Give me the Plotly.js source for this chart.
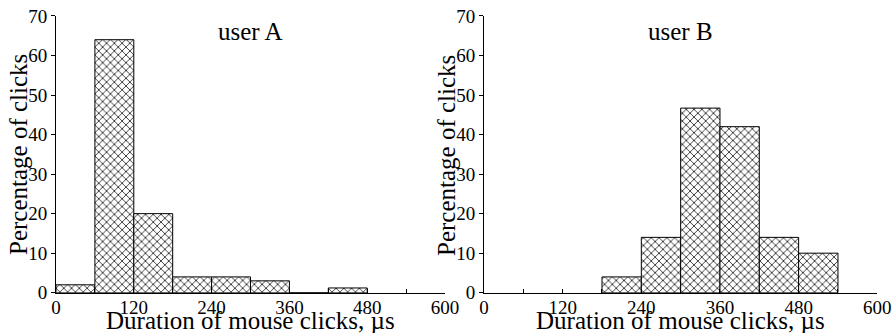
<!DOCTYPE html>
<html><head><meta charset="utf-8">
<script src="https://cdn.plot.ly/plotly-3.0.1.min.js"></script>
<style>html,body{margin:0;padding:0;background:#fff}#chart{width:896px;height:333px}</style>
</head><body><div id="chart"></div>
<script>
const binCentersA = [30, 90, 150, 210, 270, 330, 390, 450];
const valuesA = [2, 64, 20, 4, 4, 3, 0, 1.2];
const binCentersB = [210, 270, 330, 390, 450, 510];
const valuesB = [4, 14, 46.7, 42, 14, 10];
const binWidth = 60;
const xTickVals = [0, 60, 120, 180, 240, 300, 360, 420, 480, 540, 600];
const xTickText = ['0', '', '120', '', '240', '', '360', '', '480', '', '600'];
const yTickVals = [0, 10, 20, 30, 40, 50, 60, 70];
const titles = ['user A', 'user B'];
const xTitle = 'Duration of mouse clicks, µs';
const yTitle = 'Percentage of clicks';

const FONT = "Liberation Serif";
function barTrace(x, y, xa, ya) {
  return {
    type: 'bar', x: x, y: y, width: binWidth, xaxis: xa, yaxis: ya,
    marker: {color: 'white', line: {color: 'black', width: 1},
      pattern: {shape: 'x', size: 5.5, solidity: 0.25, fgcolor: 'black', bgcolor: 'white'}},
    showlegend: false, hoverinfo: 'x+y'
  };
}
const data = [barTrace(binCentersA, valuesA, 'x', 'y'), barTrace(binCentersB, valuesB, 'x2', 'y2')];
function xax(dom, anchor) {
  return {domain: dom, anchor: anchor, range: [0, 600], showgrid: false, zeroline: false,
    showline: true, linecolor: 'black', linewidth: 1, ticks: 'inside', ticklen: 4, tickcolor: 'black',
    tickmode: 'array', tickvals: xTickVals, ticktext: xTickText, ticklabelstandoff: -3,
    tickfont: {family: FONT, size: 19, color: 'black'}, fixedrange: true};
}
function yax(anchor) {
  return {domain: [0.121, 0.952], anchor: anchor, range: [0, 70], showgrid: false, zeroline: false,
    showline: true, linecolor: 'black', linewidth: 1, ticks: 'outside', ticklen: 4, tickcolor: 'black',
    tickmode: 'array', tickvals: yTickVals,
    tickfont: {family: FONT, size: 19, color: 'black'}, fixedrange: true};
}
const dA = [56/896, 445/896], dB = [484/896, 877.3/896];
const ann = [];
[[dA, 'x', 'y'], [dB, 'x2', 'y2']].forEach((d, i) => {
  const cx = (d[0][0] + d[0][1]) / 2;
  ann.push({text: titles[i], xref: 'paper', yref: 'paper', x: cx, y: 1 - 31/333, yanchor: 'middle', xanchor: 'center',
    showarrow: false, font: {family: FONT, size: 25, color: 'black'}});
  ann.push({text: xTitle, xref: 'paper', yref: 'paper', x: cx, y: 1 - 320/333, yanchor: 'middle', xanchor: 'center',
    showarrow: false, font: {family: FONT, size: 25, color: 'black'}});
  ann.push({text: yTitle, xref: 'paper', yref: 'paper', x: d[0][0] - 38/896, y: 1 - 155/333, yanchor: 'middle', xanchor: 'center',
    textangle: -90, showarrow: false, font: {family: FONT, size: 25, color: 'black'}});
});
const layout = {
  width: 896, height: 333, margin: {l: 0, r: 0, t: 0, b: 0},
  paper_bgcolor: 'white', plot_bgcolor: 'white', bargap: 0,
  xaxis: xax(dA, 'y'), yaxis: yax('x'), xaxis2: xax(dB, 'y2'), yaxis2: yax('x2'),
  annotations: ann, font: {family: FONT, color: 'black'}
};
Plotly.newPlot('chart', data, layout, {displayModeBar: false, staticPlot: true});
</script></body></html>
